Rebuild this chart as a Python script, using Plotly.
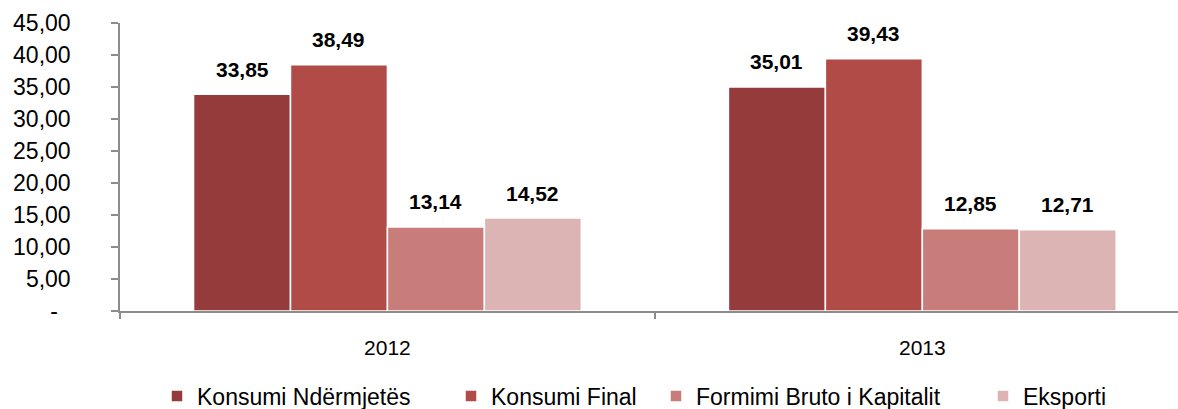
import plotly.graph_objects as go

years = ["2012", "2013"]
series_names = ["Konsumi Ndërmjetës", "Konsumi Final", "Formimi Bruto i Kapitalit", "Eksporti"]
konsumi_ndermjetes = [33.85, 35.01]
konsumi_final = [38.49, 39.43]
formimi_bruto = [13.14, 12.85]
eksporti = [14.52, 12.71]
series_values = [konsumi_ndermjetes, konsumi_final, formimi_bruto, eksporti]
colors = ["#963B3B", "#B14B48", "#C97D7B", "#DDB4B4"]
y_tickvals = [0, 5, 10, 15, 20, 25, 30, 35, 40, 45]
y_ticktext = ["-\u00a0\u00a0", "5,00", "10,00", "15,00", "20,00", "25,00", "30,00", "35,00", "40,00", "45,00"]

FONT = "Liberation Sans, Arial, sans-serif"
BARGAP = 0.275
W, H = 1178, 409
ML, MR, MT, MB = 120, 0, 23, 98
plot_w = W - ML - MR

# text starts of legend entries (px)
legend_text_px = [197, 491, 696, 1023]
legend_center_y = 396

fig = go.Figure()
for i, (name, vals) in enumerate(zip(series_names, series_values)):
    lg = "legend" if i == 0 else f"legend{i+1}"
    fig.add_trace(go.Bar(
        x=years, y=vals, name=name,
        marker=dict(color=colors[i], line=dict(color="white", width=1.5)),
        legend=lg,
        hoverinfo="skip",
    ))

# value labels
n = len(series_names)
w = (1 - BARGAP) / n
annotations = []
for i, vals in enumerate(series_values):
    for j, v in enumerate(vals):
        annotations.append(dict(
            x=j + (i - (n - 1) / 2) * w, y=v, xref="x", yref="y",
            text="<b>" + f"{v:.2f}".replace(".", ",") + "</b>",
            showarrow=False, yanchor="middle", yshift=25,
            font=dict(family=FONT, size=21, color="#000000"),
        ))

layout_legends = {}
for i in range(n):
    key = "legend" if i == 0 else f"legend{i+1}"
    left = legend_text_px[i] - 40
    layout_legends[key] = dict(
        x=left / W, xref="container", xanchor="left",
        y=1 - legend_center_y / H, yref="container", yanchor="middle",
        orientation="h",
        font=dict(family=FONT, size=23, color="#000000"),
        bgcolor="rgba(0,0,0,0)",
        borderwidth=0,
    )

fig.update_layout(
    width=W, height=H,
    margin=dict(l=ML, r=MR, t=MT, b=MB, autoexpand=False),
    paper_bgcolor="white", plot_bgcolor="white",
    barmode="group", bargap=BARGAP, bargroupgap=0,
    annotations=annotations,
    showlegend=True,
    font=dict(family=FONT, size=21, color="#000000"),
    **layout_legends,
)

fig.update_xaxes(
    type="category", automargin=False,
    range=[-0.5, 1.478],
    showline=True, linecolor="#8C8C8C", linewidth=1.5,
    ticks="outside", tickson="boundaries", ticklen=6, tickcolor="#8C8C8C", tickwidth=1.5,
    ticklabelstandoff=17,
    tickfont=dict(family=FONT, size=21, color="#000000"),
    showgrid=False, zeroline=False,
)
fig.update_yaxes(
    range=[0, 45], automargin=False,
    tickvals=y_tickvals, ticktext=y_ticktext,
    showline=True, linecolor="#8C8C8C", linewidth=1.5,
    ticks="outside", ticklen=7, tickcolor="#8C8C8C", tickwidth=1.5,
    ticklabelstandoff=36,
    tickfont=dict(family=FONT, size=23, color="#000000"),
    showgrid=False, zeroline=False,
)

fig.write_html(
    "out.html",
    config={"displayModeBar": False},
    post_script="document.body.style.margin='0';document.body.style.overflow='hidden';",
)
